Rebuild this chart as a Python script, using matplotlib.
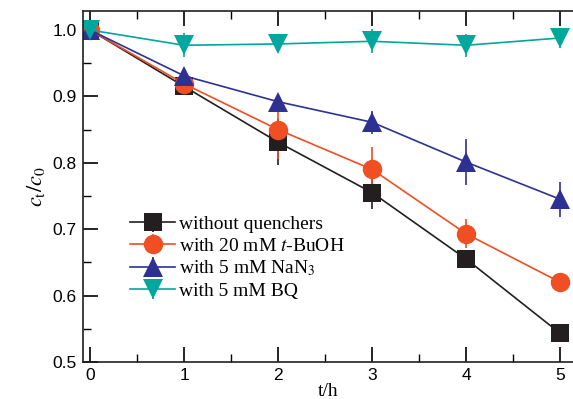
import numpy as np
import matplotlib
matplotlib.use("Agg")
import matplotlib.pyplot as plt
from matplotlib.ticker import MultipleLocator

plt.rcParams["mathtext.fontset"] = "stix"

# --- data: c_t/c_0 vs time ---
t = [0, 1, 2, 3, 4, 5]

no_q = [1.0, 0.915, 0.831, 0.755, 0.655, 0.543]
no_q_err = [0.005, 0.008, 0.035, 0.025, 0.006, 0.005]

buoh = [1.0, 0.919, 0.850, 0.790, 0.693, 0.620]
buoh_err = [0.005, 0.008, 0.045, 0.034, 0.022, 0.010]

nan3 = [1.0, 0.931, 0.892, 0.861, 0.801, 0.745]
nan3_err = [0.005, 0.006, 0.005, 0.017, 0.035, 0.026]

bq = [1.0, 0.977, 0.979, 0.983, 0.977, 0.988]
bq_err = [0.005, 0.018, 0.005, 0.018, 0.017, 0.015]

labels = ["without quenchers", "with 20 mM $\\it{t}$-BuOH",
          "with 5 mM NaN$_3$", "with 5 mM BQ"]

series = [
    (no_q, no_q_err, "#231f20", "s", 13),
    (buoh, buoh_err, "#f04e23", "o", 14),
    (nan3, nan3_err, "#2e3192", "^", 14),
    (bq, bq_err, "#00a79d", "v", 14),
]

fig = plt.figure(figsize=(5.73, 3.99), dpi=100)
ax = fig.add_axes([0.144, 0.0927, 0.856, 0.8797])

for (y, e, c, m, ms), lab in zip(series, labels):
    ax.errorbar(t, y, yerr=e, color=c, marker=m, markersize=ms, lw=1.2,
                elinewidth=1.2, capsize=7, capthick=1.2, label=lab,
                markeredgewidth=0)

ax.set_xlim(-0.08, 5.135)
ax.set_ylim(0.5, 1.0286)

ax.xaxis.set_major_locator(MultipleLocator(1))
ax.xaxis.set_minor_locator(MultipleLocator(0.5))
ax.yaxis.set_major_locator(MultipleLocator(0.1))
ax.yaxis.set_minor_locator(MultipleLocator(0.05))
ax.yaxis.set_major_formatter(matplotlib.ticker.FormatStrFormatter("%.1f"))

ax.tick_params(which="major", direction="in", length=11, width=1.2,
               labelsize=12.5, top=True, right=False, pad=4)
ax.tick_params(which="minor", direction="in", length=6, width=1.0,
               top=True, right=False)
for lab in ax.get_xticklabels() + ax.get_yticklabels():
    lab.set_fontfamily("Liberation Sans")

ax.spines["right"].set_visible(False)
for s in ["left", "bottom", "top"]:
    ax.spines[s].set_linewidth(1.2)
    ax.spines[s].set_color("#231f20")

ax.set_xlabel("t/h", fontfamily="Liberation Serif", fontsize=14, labelpad=0)
ax.set_ylabel("$c_{\\rm t}/c_0$", fontsize=16, labelpad=4)

leg = ax.legend(loc="upper left", bbox_to_anchor=(0.078, 0.445), frameon=False,
                prop={"family": "Liberation Serif", "size": 14},
                handlelength=2.3, handletextpad=0.2, labelspacing=0.2,
                borderpad=0)

fig.savefig("out.png", dpi=100)
